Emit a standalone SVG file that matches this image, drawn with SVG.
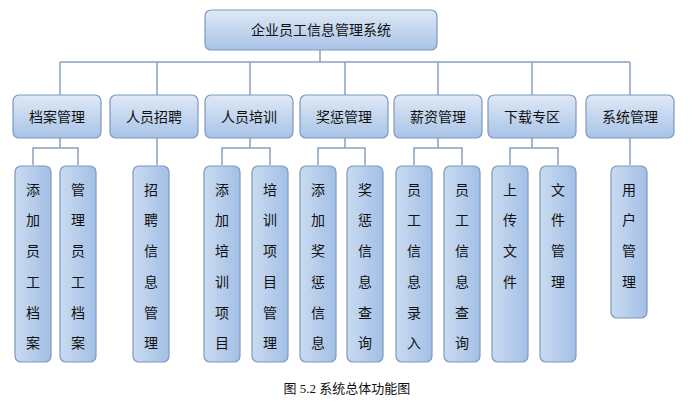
<svg xmlns="http://www.w3.org/2000/svg" width="694" height="414" viewBox="0 0 694 414">
<defs>
<linearGradient id="g" x1="0" y1="0" x2="0" y2="1"><stop offset="0" stop-color="#dfe9f6"/><stop offset="1" stop-color="#a8c3e6"/></linearGradient>
<linearGradient id="gh" x1="0" y1="0" x2="1" y2="0"><stop offset="0" stop-color="#c9dbf1"/><stop offset="1" stop-color="#a3bfe5"/></linearGradient>
<style>
.b{fill:url(#g);stroke:#7d98bd;stroke-width:1.2}
.v{fill:url(#gh);stroke:#7d98bd;stroke-width:1.2}
text{font-family:"Noto Sans CJK SC","Noto Sans CJK JP",sans-serif;font-size:14px;fill:#111;text-anchor:middle}
.c line,.c path{stroke:#8aa0bd;stroke-width:1.5;fill:none}
</style>
</defs>
<rect width="694" height="414" fill="#fff"/>
<g class="c">
<path d="M320 50V62M60 62H630"/>
<path d="M60 62V95M157 62V95M250 62V95M345 62V95M438 62V95M532 62V95M630 62V95"/>
<path d="M60 138V148M33 165V148H78V165"/>
<path d="M157 138V165"/>
<path d="M250 138V148M222 165V148H270V165"/>
<path d="M345 138V148M318 165V148H365V165"/>
<path d="M438 138V148M414 165V148H462V165"/>
<path d="M532 138V148M510 165V148H558V165"/>
<path d="M630 138V165"/>
</g>
<g id="root"><rect class="b" x="205" y="10" width="232" height="40" rx="6"/><text x="321" y="35">企业员工信息管理系统</text></g>
<g id="l1">
<rect class="b" x="13" y="95" width="88" height="43" rx="6"/><text x="57" y="122">档案管理</text>
<rect class="b" x="110" y="95" width="88" height="43" rx="6"/><text x="154" y="122">人员招聘</text>
<rect class="b" x="205" y="95" width="88" height="43" rx="6"/><text x="249" y="122">人员培训</text>
<rect class="b" x="300" y="95" width="88" height="43" rx="6"/><text x="344" y="122">奖惩管理</text>
<rect class="b" x="394" y="95" width="88" height="43" rx="6"/><text x="438" y="122">薪资管理</text>
<rect class="b" x="488" y="95" width="88" height="43" rx="6"/><text x="532" y="122">下载专区</text>
<rect class="b" x="586" y="95" width="88" height="43" rx="6"/><text x="630" y="122">系统管理</text>
</g>
<g id="l2">
<rect class="v" x="15" y="166" width="36" height="196" rx="6"/>
<text x="33"><tspan x="33" y="195">添</tspan><tspan x="33" y="225">加</tspan><tspan x="33" y="256">员</tspan><tspan x="33" y="287">工</tspan><tspan x="33" y="318">档</tspan><tspan x="33" y="348">案</tspan></text>
<rect class="v" x="60" y="166" width="36" height="196" rx="6"/>
<text><tspan x="78" y="195">管</tspan><tspan x="78" y="225">理</tspan><tspan x="78" y="256">员</tspan><tspan x="78" y="287">工</tspan><tspan x="78" y="318">档</tspan><tspan x="78" y="348">案</tspan></text>
<rect class="v" x="133" y="166" width="36" height="196" rx="6"/>
<text><tspan x="151" y="195">招</tspan><tspan x="151" y="225">聘</tspan><tspan x="151" y="256">信</tspan><tspan x="151" y="287">息</tspan><tspan x="151" y="318">管</tspan><tspan x="151" y="348">理</tspan></text>
<rect class="v" x="204" y="166" width="36" height="196" rx="6"/>
<text><tspan x="222" y="195">添</tspan><tspan x="222" y="225">加</tspan><tspan x="222" y="256">培</tspan><tspan x="222" y="287">训</tspan><tspan x="222" y="318">项</tspan><tspan x="222" y="348">目</tspan></text>
<rect class="v" x="252" y="166" width="36" height="196" rx="6"/>
<text><tspan x="270" y="195">培</tspan><tspan x="270" y="225">训</tspan><tspan x="270" y="256">项</tspan><tspan x="270" y="287">目</tspan><tspan x="270" y="318">管</tspan><tspan x="270" y="348">理</tspan></text>
<rect class="v" x="300" y="166" width="36" height="196" rx="6"/>
<text><tspan x="318" y="195">添</tspan><tspan x="318" y="225">加</tspan><tspan x="318" y="256">奖</tspan><tspan x="318" y="287">惩</tspan><tspan x="318" y="318">信</tspan><tspan x="318" y="348">息</tspan></text>
<rect class="v" x="347" y="166" width="36" height="196" rx="6"/>
<text><tspan x="365" y="195">奖</tspan><tspan x="365" y="225">惩</tspan><tspan x="365" y="256">信</tspan><tspan x="365" y="287">息</tspan><tspan x="365" y="318">查</tspan><tspan x="365" y="348">询</tspan></text>
<rect class="v" x="396" y="166" width="36" height="196" rx="6"/>
<text><tspan x="414" y="195">员</tspan><tspan x="414" y="225">工</tspan><tspan x="414" y="256">信</tspan><tspan x="414" y="287">息</tspan><tspan x="414" y="318">录</tspan><tspan x="414" y="348">入</tspan></text>
<rect class="v" x="444" y="166" width="36" height="196" rx="6"/>
<text><tspan x="462" y="195">员</tspan><tspan x="462" y="225">工</tspan><tspan x="462" y="256">信</tspan><tspan x="462" y="287">息</tspan><tspan x="462" y="318">查</tspan><tspan x="462" y="348">询</tspan></text>
<rect class="v" x="492" y="166" width="36" height="196" rx="6"/>
<text><tspan x="510" y="195">上</tspan><tspan x="510" y="225">传</tspan><tspan x="510" y="256">文</tspan><tspan x="510" y="287">件</tspan></text>
<rect class="v" x="540" y="166" width="36" height="196" rx="6"/>
<text><tspan x="558" y="195">文</tspan><tspan x="558" y="225">件</tspan><tspan x="558" y="256">管</tspan><tspan x="558" y="287">理</tspan></text>
<rect class="v" x="611" y="166" width="36" height="152" rx="6"/>
<text><tspan x="629" y="195">用</tspan><tspan x="629" y="225">户</tspan><tspan x="629" y="256">管</tspan><tspan x="629" y="287">理</tspan></text>
</g>
<text x="347" y="393" style="font-family:'Liberation Serif','Noto Sans CJK SC',serif;font-size:13px">图 5.2  系统总体功能图</text>
</svg>
